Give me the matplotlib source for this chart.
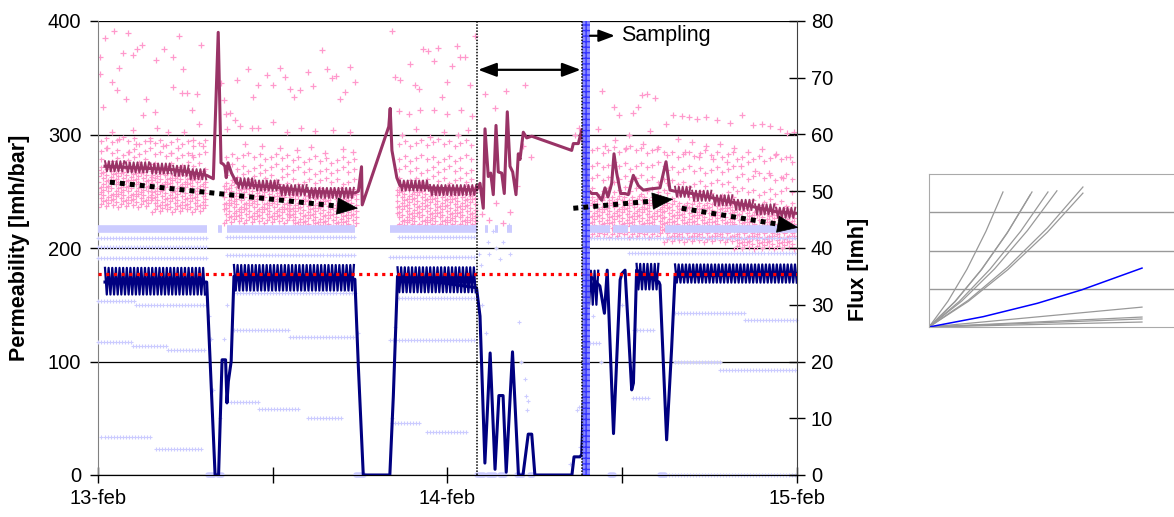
import numpy as np
import matplotlib
matplotlib.use("Agg")
from matplotlib import pyplot as plt

plt.rcParams['font.family'] = ['Liberation Sans', 'DejaVu Sans']

# time axis: days counted from 13-feb 00:00
DAY_TICKS = [0, 0.5, 1, 1.5, 2]
DAY_LABELS = ['13-feb', '', '14-feb', '', '15-feb']
PERM_TICKS = [0, 100, 200, 300, 400]
FLUX_TICKS = [0, 10, 20, 30, 40, 50, 60, 70, 80]

# --- permeability (average), line through the knots ---
perm_t = [0.020, 0.080, 0.150, 0.215, 0.260, 0.311, 0.330, 0.344, 0.352, 0.358, 0.363,
          0.367, 0.372, 0.382, 0.397, 0.450, 0.520, 0.600, 0.735, 0.745, 0.754, 0.756,
          0.832, 0.836, 0.841, 0.855, 0.864, 0.950, 1.0835, 1.093, 1.1024, 1.1073, 1.1167,
          1.1236, 1.131, 1.1388, 1.1453, 1.1551, 1.1625, 1.1711, 1.1788, 1.1865, 1.196,
          1.2026, 1.2074, 1.2169, 1.2266, 1.2409, 1.3553, 1.360, 1.3743, 1.384, 1.3934,
          1.4029, 1.4126, 1.4269, 1.4412, 1.4506, 1.4592, 1.4698, 1.4764, 1.4841, 1.4955,
          1.5079, 1.5173, 1.5317, 1.5459, 1.5603, 1.5794, 1.608, 1.6252, 1.6366, 1.651,
          1.700, 1.760, 1.820, 1.880, 1.940, 2.000]
perm_v = [272, 271, 270, 269, 267, 264, 261, 390, 275, 274, 272,
          262, 275, 266, 257, 255, 253, 250, 248.5, 250, 271.6, 238,
          307, 323, 286, 262, 255, 253, 251, 257, 235, 305, 263,
          266, 247, 308, 267, 266, 248, 320, 272, 267, 247,
          283, 278, 302, 297, 298.5, 286, 292, 292, 304, 280,
          251, 248, 248, 242, 253, 245, 257, 283, 266, 248,
          248, 247, 264, 255, 251, 252, 253, 276, 251, 250,
          248, 244, 240, 236, 232, 230.5]
# steady stretches of permeability: start, end, low, high of the ripple
perm_steady = [(0.020, 0.080, 267.5, 276.5), (0.080, 0.150, 266.5, 275.5),
               (0.150, 0.215, 265.5, 274.5), (0.215, 0.260, 263.5, 272.5),
               (0.260, 0.311, 260.5, 269.5), (0.397, 0.450, 252.5, 261.5),
               (0.450, 0.520, 250.5, 259.5), (0.520, 0.600, 246.5, 255.5),
               (0.600, 0.735, 244.0, 253.0), (0.864, 0.950, 250.5, 259.5),
               (0.950, 1.083, 246.5, 255.5), (1.651, 1.700, 245.0, 254.0),
               (1.700, 1.760, 241.5, 250.5), (1.760, 1.820, 237.5, 246.5),
               (1.820, 1.880, 233.5, 242.5), (1.880, 1.940, 229.5, 238.5),
               (1.940, 2.000, 226.5, 235.5)]

# --- flux (average) ---
flux_t = [0.020, 0.311, 0.335, 0.345, 0.355, 0.365, 0.369, 0.373, 0.381, 0.389, 0.735,
          0.745, 0.759, 0.835, 0.845, 0.857, 1.083, 1.093, 1.107, 1.122, 1.136, 1.147,
          1.159, 1.168, 1.186, 1.203, 1.216, 1.231, 1.241, 1.250, 1.356, 1.362, 1.379,
          1.384, 1.400, 1.436, 1.449, 1.457, 1.475, 1.494, 1.499, 1.508, 1.527, 1.532,
          1.541, 1.605, 1.608, 1.627, 1.641, 1.651, 2.000]
flux_v = [34, 34, 0, 0, 20.3, 20.3, 12.7, 16.5, 20, 35, 34.5,
          19, 0, 0, 13.9, 35, 33, 28, 2.1, 21.5, 1, 14,
          14, 0.5, 21.7, 0, 0, 7.2, 7.2, 0, 0, 3.2, 3.2,
          3.6, 35.6, 33.3, 28.5, 36.1, 7.3, 34.4, 35.5, 36.1, 15, 16.2,
          36.1, 34, 33.5, 6.2, 22, 35, 35.5]
# flux plateaus: start, end, low, high of the pump cycling
flux_steady = [(0.020, 0.311, 31.8, 36.5), (0.389, 0.735, 32.5, 37.0),
               (0.857, 1.083, 32.2, 36.6), (1.400, 1.436, 30.0, 36.0),
               (1.541, 1.605, 32.7, 37.2), (1.651, 2.000, 33.9, 37.1)]
FLUX_SETPOINT = 35.4

# --- raw permeability readings (pink): start, end, dense rows, loose rows ---
pink_blocks = [(0.000, 0.155, [236, 242, 248, 254, 260, 266], [274, 282, 292]),
               (0.155, 0.310, [232, 238, 244, 250, 256, 262], [270, 279, 290]),
               (0.360, 0.550, [222, 228, 234, 240, 246, 252], [260, 268, 278]),
               (0.550, 0.740, [217, 223, 229, 235, 241, 247], [256, 265, 275]),
               (0.855, 1.083, [219, 225, 231, 237, 243, 249], [257, 266, 276, 290]),
               (1.405, 1.620, [210, 216, 222, 228, 234, 240], [248, 258, 270, 284]),
               (1.620, 1.820, [205, 211, 217, 223, 229, 235], [244, 254, 266, 280]),
               (1.820, 2.000, [199, 205, 211, 217, 223, 229], [237, 247, 260, 276])]
pink_cycle = [0, 2.5, 5, 1, 3.5, 6, 2, 4.5]
pink_sparse_t = [0.006, 0.020, 0.047, 0.085, 0.060, 0.072, 0.099, 0.112, 0.125, 0.166,
                 0.190, 0.215, 0.233, 0.244, 0.240, 0.255, 0.282, 0.294, 0.041, 0.053,
                 0.080, 0.137, 0.163, 0.215, 0.268, 0.288, 0.015, 0.006, 0.039, 0.100,
                 0.130, 0.168, 0.200, 0.245, 0.273, 0.060, 0.110, 0.150, 0.185, 0.230,
                 0.300, 0.025, 0.090, 0.210, 0.270, 0.352, 0.360, 0.365, 0.370,
                 0.378, 0.392, 0.397, 0.430, 0.444, 0.459, 0.483, 0.502, 0.521, 0.535,
                 0.549, 0.562, 0.578, 0.602, 0.614, 0.640, 0.654, 0.669, 0.681, 0.692,
                 0.707, 0.721, 0.735, 0.406, 0.440, 0.459, 0.502, 0.541, 0.580, 0.620,
                 0.673, 0.720, 0.420, 0.470, 0.520, 0.570, 0.610, 0.650, 0.700, 0.730,
                 0.840, 0.850, 0.864, 0.893, 0.907, 0.919, 0.931, 0.945, 0.960, 0.974,
                 0.983, 0.998, 1.012, 1.026, 1.036, 1.050, 1.064, 1.079, 0.860, 0.890,
                 0.920, 0.960, 1.000, 1.040, 1.070, 0.870, 0.910, 0.950, 0.990, 1.030,
                 1.060, 1.107, 1.168, 1.222, 1.136, 1.100, 1.140, 1.180, 1.200, 1.215,
                 1.240, 1.365, 1.375, 1.120, 1.160,
                 1.441, 1.477, 1.491, 1.532, 1.546, 1.556, 1.570, 1.594, 1.625, 1.646,
                 1.670, 1.690, 1.713, 1.740, 1.770, 1.808, 1.842, 1.875, 1.900, 1.923,
                 1.950, 1.970, 1.990, 1.450, 1.480, 1.510, 1.560, 1.600, 1.660, 1.700,
                 1.740, 1.780, 1.820, 1.860, 1.900, 1.940, 1.980, 1.430, 1.520, 1.580,
                 1.680, 1.720, 1.760, 1.800, 1.840, 1.880, 1.920, 1.960]
pink_sparse_v = [368.6, 385, 391.5, 389, 358.5, 371.5, 370, 375, 379, 365.6,
                 375, 368, 386.8, 357.7, 336.8, 336.8, 335.7, 378.9, 346.5, 339,
                 331, 331, 320, 341.6, 322, 309, 324.5, 353, 302.5, 303.6,
                 317, 305.6, 302.5, 302, 295, 296, 292, 294, 290, 288,
                 290, 288, 285, 284, 282, 345, 330, 318, 305,
                 319, 312.8, 348, 357.5, 333.3, 343.6, 352.4, 343.6, 358.3, 351,
                 339.8, 333.3, 339, 355.4, 342.7, 374.4, 357.5, 349.5, 351.5, 331,
                 337.7, 359.7, 346.5, 307.5, 306, 305.5, 311, 302, 306, 303,
                 304, 302, 292, 290, 288, 286, 289, 284, 287, 285,
                 391.5, 351, 348, 362, 343.6, 339.8, 375, 374, 365, 376.5,
                 333.3, 346.5, 360, 378, 368.5, 368, 343.6, 386.8, 321, 318,
                 322, 321.6, 318, 322, 316, 300, 305, 298, 302, 300,
                 304, 336, 338, 343.6, 323, 230, 240, 232, 255, 290,
                 280, 300, 306, 225, 222,
                 338.6, 324, 317, 319, 324, 334.8, 335.7, 331.9, 309, 317,
                 315.9, 315, 314, 315, 313, 309.8, 317, 308, 309, 307.5,
                 305, 301.6, 302, 290, 295, 288, 292, 287, 296, 293,
                 290, 292, 288, 285, 287, 283, 280, 305, 300, 303,
                 285, 280, 278, 276, 272, 268, 266, 262]

# --- raw flux readings of the single lines (lavender) ---
lav_band = [(0.000, 0.311), (0.344, 0.355), (0.369, 0.735), (0.835, 1.084),
            (1.107, 1.116), (1.136, 1.145), (1.170, 1.185), (1.408, 1.465),
            (1.474, 1.516), (1.522, 1.608), (1.622, 2.000)]
LAV_BAND_LEVEL = 43.3
lav_rows = [(0.000, 0.310, 41.8), (0.000, 0.310, 40.2), (0.000, 0.310, 38.3),
            (0.000, 0.110, 30.6), (0.110, 0.310, 30.0),
            (0.000, 0.100, 23.4), (0.100, 0.200, 22.7), (0.200, 0.310, 22.0),
            (0.010, 0.150, 6.7), (0.165, 0.300, 4.6),
            (0.370, 0.735, 42.0), (0.370, 0.735, 38.8), (0.390, 0.735, 32.0),
            (0.390, 0.550, 25.5), (0.550, 0.735, 24.3),
            (0.380, 0.460, 12.9), (0.460, 0.580, 11.6), (0.600, 0.700, 10.0),
            (0.860, 1.080, 42.0), (0.835, 1.080, 38.5), (0.860, 1.080, 31.2),
            (0.835, 1.080, 23.8), (0.840, 0.920, 9.2), (0.940, 1.060, 7.6),
            (1.410, 2.000, 41.8), (1.520, 2.000, 39.1),
            (1.650, 1.850, 28.5), (1.850, 2.000, 27.4), (1.535, 1.590, 25.6),
            (1.400, 1.435, 23.2), (1.650, 1.780, 20.0), (1.780, 2.000, 18.5),
            (1.530, 1.580, 13.5), (1.625, 2.000, 0.0)]
lav_sparse_t = [1.090, 1.095, 1.100, 1.110, 1.115, 1.120, 1.130, 1.140, 1.150, 1.160,
                1.175, 1.180, 1.205, 1.210, 1.222, 1.225, 1.228, 1.230, 1.370, 1.375,
                1.380, 1.350, 0.318, 0.322, 0.330, 0.350, 0.360, 0.370, 0.745, 0.840,
                0.850, 1.415, 1.440, 1.500]
lav_sparse_v = [39, 37, 30, 25, 41, 39, 43, 40, 38, 41,
                44, 39, 27, 20, 17, 14, 11.5, 13, 11.5, 12,
                5, 2, 28, 24, 15, 10, 24, 30, 25, 10,
                26, 28, 20, 30]
lav_zero = [(0.315, 0.332), (0.342, 0.355), (0.737, 0.760), (1.085, 1.105),
            (1.115, 1.135), (1.150, 1.165), (1.200, 1.215), (1.235, 1.245),
            (1.465, 1.475), (1.608, 1.622)]

# --- annotations ---
trend_arrows = [((0.034, 258), (0.744, 235)), ((1.360, 235), (1.646, 243)),
                ((1.670, 235), (2.004, 218))]
OUT_OF_SERVICE = (1.0845, 1.384)
SAMPLING = (1.384, 1.408)

# --- inset: small curves ---
inset_gray = [([0, 7, 14, 21, 27.3], [0, 0.675, 1.51, 2.50, 3.53]),
              ([0, 9.7, 19.5, 29.2, 38.0], [0, 0.67, 1.51, 2.50, 3.53]),
              ([0, 9.5, 19.1, 28.7, 37.3], [0, 0.66, 1.48, 2.44, 3.45]),
              ([0, 11.2, 22.5, 33.8, 43.9], [0, 0.67, 1.51, 2.50, 3.53]),
              ([0, 12.1, 24.2, 36.3, 47.2], [0, 0.68, 1.52, 2.52, 3.56]),
              ([0, 14.5, 29.1, 43.7, 56.8], [0, 0.70, 1.57, 2.59, 3.66]),
              ([0, 14.5, 29.1, 43.7, 56.8], [0, 0.67, 1.50, 2.48, 3.50]),
              ([0, 78.6], [0, 0.52]), ([0, 78.6], [0, 0.26]),
              ([0, 78.6], [0, 0.21]), ([0, 78.6], [0, 0.13])]
inset_blue = ([0, 20, 40, 56.3, 78.6], [0, 0.27, 0.62, 0.97, 1.54])

PERM_C = '#993366'
FLUX_C = '#000080'
PINK = '#ff99cc'
LAV = '#ccccff'


def ripple(blocks, dt):
    ts, vs = [], []
    for t0, t1, lo, hi in blocks:
        t = np.arange(t0, t1, dt)
        v = np.where(np.arange(len(t)) % 2 == 0, hi, lo)
        ts += [t, [np.nan]]
        vs += [v, [np.nan]]
    return np.concatenate(ts), np.concatenate(vs)


def pink_rows(ax, t, levels, shift):
    for r, lev in enumerate(levels):
        saw = np.resize(np.roll(pink_cycle, 3 * r + shift), len(t))
        ax.plot(t, lev + saw, ls='none', marker='+', ms=3.6, mew=0.85, color=PINK, zorder=2)


fig = plt.figure(figsize=(11.74, 5.17), dpi=100)
ax = fig.add_axes([98 / 1174, 42 / 517, 699 / 1174, 454 / 517])
ax2 = ax.twinx()

ax.set_xlim(0, 2)
ax.set_ylim(0, 400)
ax2.set_ylim(0, 80)

# raw permeability cloud
dt = 0.0072
for t0, t1, dense, loose in pink_blocks:
    pink_rows(ax, np.arange(t0, t1, dt), dense, 0)
    pink_rows(ax, np.arange(t0 + dt, t1, 2.2 * dt), loose, 1)
ax.plot(pink_sparse_t, pink_sparse_v, ls='none', marker='+', ms=3.8, mew=0.9, color=PINK, zorder=2)

# permeability line
ax.plot(perm_t, perm_v, color=PERM_C, lw=2.2, zorder=4)
rt, rv = ripple(perm_steady, 0.0055)
ax.plot(rt, rv, color=PERM_C, lw=1.4, zorder=4)

# raw flux readings
dt_lav = 0.0086
for t0, t1 in lav_band:
    ax2.plot([t0, t1], [LAV_BAND_LEVEL, LAV_BAND_LEVEL], color=LAV, lw=5.5,
             solid_capstyle='butt', zorder=1)
for t0, t1, lev in lav_rows:
    t = np.arange(t0, t1, dt_lav)
    ax2.plot(t, np.full(len(t), lev), ls='none', marker='+', ms=3.2, mew=0.8,
             color=LAV, zorder=1, clip_on=False)
ax2.plot(lav_sparse_t, lav_sparse_v, ls='none', marker='+', ms=3.2, mew=0.8, color=LAV, zorder=1)
for t0, t1 in lav_zero:
    ax2.plot([t0, t1], [0, 0], color=LAV, lw=4, solid_capstyle='round', zorder=1, clip_on=False)

# flux line
ax2.plot(flux_t, flux_v, color=FLUX_C, lw=2.2, zorder=3)
rt, rv = ripple(flux_steady, 0.0052)
ax2.plot(rt, rv, color=FLUX_C, lw=1.6, zorder=3)
ax2.axhline(FLUX_SETPOINT, color='red', lw=2.3, ls=(0, (1, 1.4)), zorder=6)

# sampling band and period markers
ax2.axvspan(*SAMPLING, facecolor='#8080ff', edgecolor='#2a2aff', hatch='+++', lw=0,
            alpha=0.9, zorder=7)
for x in OUT_OF_SERVICE:
    ax2.axvline(x, color='k', lw=1.1, ls=(0, (1, 1)), zorder=7)
ax2.annotate('', xy=(OUT_OF_SERVICE[1] - 0.003, 357), xytext=(OUT_OF_SERVICE[0] + 0.003, 357),
             xycoords=ax.transData, textcoords=ax.transData,
             arrowprops=dict(arrowstyle='<|-|>,head_length=0.8,head_width=0.3', color='k',
                             lw=1.6, mutation_scale=14, shrinkA=0, shrinkB=0), zorder=8)
ax2.annotate('', xy=(1.479, 387), xytext=(SAMPLING[1], 387),
             xycoords=ax.transData, textcoords=ax.transData,
             arrowprops=dict(arrowstyle='-|>,head_length=0.8,head_width=0.3', color='k',
                             lw=1.6, mutation_scale=12, shrinkA=0, shrinkB=0), zorder=8)
ax2.text(1.496, 387, 'Sampling', transform=ax.transData, va='center', ha='left',
         fontsize=15.5, zorder=8)

# dotted trend arrows
for (x0, y0), (x1, y1) in trend_arrows:
    xb = x1 - (x1 - x0) * 0.06
    yb = y1 - (y1 - y0) * 0.06
    ax2.plot([x0, xb], [y0, yb], transform=ax.transData, color='k', lw=3.6,
             ls=(0, (1, 1)), dash_capstyle='butt', zorder=8, clip_on=False)
    ax2.annotate('', xy=(x1, y1), xytext=(xb, yb), xycoords=ax.transData,
                 textcoords=ax.transData, annotation_clip=False,
                 arrowprops=dict(arrowstyle='-|>,head_length=1.1,head_width=0.45', color='k',
                                 lw=0.5, mutation_scale=13, shrinkA=0, shrinkB=0), zorder=8)

# axes styling
ax.set_yticks(PERM_TICKS)
ax.set_xticks(DAY_TICKS)
ax.set_xticklabels(DAY_LABELS)
ax2.set_yticks(FLUX_TICKS)
ax.yaxis.grid(True, color='k', lw=0.9)
ax.set_axisbelow(True)
for a in (ax, ax2):
    a.spines['top'].set_visible(False)
ax.spines['left'].set_color('#808080')
ax.spines['right'].set_visible(False)
ax2.spines['left'].set_visible(False)
ax2.spines['right'].set_color('#404040')
ax.tick_params(axis='y', direction='out', length=6, width=1, colors='k', labelsize=14.5, pad=6)
ax.tick_params(axis='x', direction='inout', length=12, width=1, labelsize=14.5, pad=4)
ax2.tick_params(axis='y', direction='inout', length=12, width=1, labelsize=14.5, pad=4)
ax.set_ylabel('Permeability [lmh/bar]', fontsize=15.5, fontweight='bold')
ax.yaxis.set_label_coords(-0.097, 0.50)
ax2.set_ylabel('Flux [lmh]', fontsize=15.5, fontweight='bold', rotation=90)
ax2.yaxis.set_label_coords(1.073, 0.452)

# inset
axi = fig.add_axes([929 / 1174, 190 / 517, 271 / 1174, 153 / 517])
axi.set_xlim(0, 100)
axi.set_ylim(0, 4)
for xs, ys in inset_gray:
    axi.plot(xs, ys, color='#999999', lw=0.9)
axi.plot(*inset_blue, color='#0000ff', lw=1.1)
axi.set_xticks([])
axi.set_yticks([1, 2, 3])
axi.yaxis.grid(True, color='#999999', lw=1)
axi.tick_params(left=False, labelleft=False)
for s in axi.spines.values():
    s.set_color('#aaaaaa')
axi.spines['right'].set_visible(False)

fig.savefig('out.png', dpi=100)
